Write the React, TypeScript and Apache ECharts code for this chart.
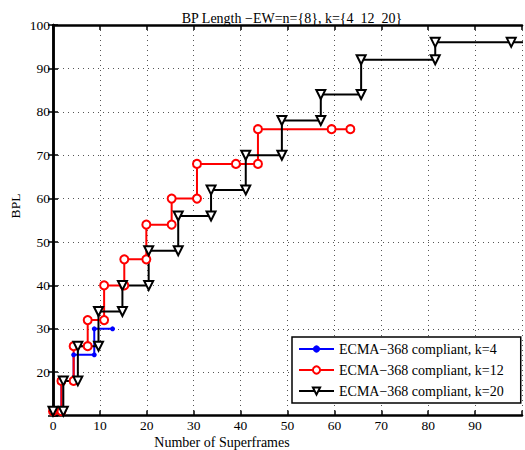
import React, { useEffect, useRef } from "react";
import * as echarts from "echarts";

const titleText = "BP Length \u2212EW=n={8}, k={4  12  20}";
const xAxisName = "Number of Superframes";
const yAxisName = "BPL";
const seriesNames = [
  "ECMA\u2212368 compliant, k=4",
  "ECMA\u2212368 compliant, k=12",
  "ECMA\u2212368 compliant, k=20",
];

// [superframes, BPL] corner points of each staircase
const k4Points: [number, number][] = [
  [0, 11], [1.8, 11], [1.8, 18], [4.4, 18], [4.4, 24], [8.8, 24], [8.8, 30], [12.7, 30],
];
const k12Points: [number, number][] = [
  [0, 11], [1.8, 11], [1.8, 18], [4.4, 18], [4.4, 26], [7.4, 26], [7.4, 32], [10.9, 32],
  [10.9, 40], [15.2, 40], [15.2, 46], [19.9, 46], [19.9, 54], [25.3, 54], [25.3, 60],
  [30.7, 60], [30.7, 68], [39, 68], [43.7, 68], [43.7, 76], [59.4, 76], [63.4, 76],
];
const k20Points: [number, number][] = [
  [0, 11], [2.2, 11], [2.2, 18], [5.3, 18], [5.3, 26], [9.7, 26], [9.7, 34], [14.8, 34],
  [14.8, 40], [20.4, 40], [20.4, 48], [26.7, 48], [26.7, 56], [33.7, 56], [33.7, 62],
  [41.1, 62], [41.1, 70], [48.8, 70], [48.8, 78], [57.1, 78], [57.1, 84], [65.7, 84],
  [65.7, 92], [81.5, 92], [81.5, 96], [97.7, 96], [101, 96],
];

const xTicks = { min: 0, max: 100, interval: 10 };
const yTicks = { min: 10, max: 100, interval: 10 };

const FONT = "Liberation Serif";

export default function App() {
  const ref = useRef<HTMLDivElement>(null);
  useEffect(() => {
    if (!ref.current) return;
    const chart = echarts.init(ref.current, null, { renderer: "svg" });
    const axisLine = { show: true, lineStyle: { color: "#000", width: 2.5 } };
    const tick = { show: true, inside: true, length: 5, lineStyle: { color: "#000", width: 1.5 } };
    const grid = { show: true, lineStyle: { color: "#555", width: 1, type: [1, 4] as any } };
    const label = { color: "#000", fontFamily: FONT, fontSize: 13.5 };
    const legendText = { fontFamily: FONT, fontSize: 14, color: "#000" };
    chart.setOption({
      animation: false,
      backgroundColor: "#fff",
      textStyle: { fontFamily: FONT },
      title: {
        text: titleText,
        left: 287,
        textAlign: "center",
        top: 6,
        textStyle: { fontFamily: FONT, fontSize: 14, fontWeight: "normal", color: "#000" },
      },
      grid: { left: 53, top: 25, right: -3, bottom: 34.4, containLabel: false },
      xAxis: [
        {
          type: "value", position: "bottom", ...xTicks,
          axisLine, axisTick: tick, splitLine: grid,
          axisLabel: { ...label, margin: 3, formatter: (v: number) => (v >= 100 ? "" : String(v)) },
        },
        {
          type: "value", position: "top", ...xTicks,
          axisLine, axisTick: tick, splitLine: { show: false }, axisLabel: { show: false },
        },
      ],
      yAxis: [
        {
          type: "value", position: "left", ...yTicks,
          axisLine, axisTick: tick, splitLine: grid,
          axisLabel: { ...label, margin: 3, formatter: (v: number) => (v <= 10 ? "" : String(v)) },
        },
        {
          type: "value", position: "right", ...yTicks,
          axisLine, axisTick: tick, splitLine: { show: false }, axisLabel: { show: false },
        },
      ],
      legend: {
        orient: "vertical",
        left: 292,
        top: 337,
        itemWidth: 35,
        itemHeight: 9,
        itemGap: 7,
        padding: [5, 17, 5, 6],
        backgroundColor: "#fff",
        borderColor: "#000",
        borderWidth: 1.5,
        textStyle: { ...legendText, rich: { s: legendText } },
        formatter: "{s|{name}}",
        data: seriesNames.map((name) => ({ name, textStyle: legendText })),
      },
      graphic: [
        {
          type: "text",
          x: 15,
          y: 206,
          rotation: Math.PI / 2,
          style: { text: yAxisName, fontFamily: FONT, fontSize: 13.5, fill: "#000", align: "center", verticalAlign: "middle" },
        },
        {
          type: "text",
          x: 222,
          y: 442,
          style: { text: xAxisName, fontFamily: FONT, fontSize: 14, fill: "#000", align: "center", verticalAlign: "middle" },
        },
      ],
      series: [
        {
          name: seriesNames[0], type: "line", data: k4Points, clip: false,
          color: "#0000ff", symbol: "circle", symbolSize: 5,
          lineStyle: { width: 2, color: "#0000ff" }, itemStyle: { color: "#0000ff" },
        },
        {
          name: seriesNames[1], type: "line", data: k12Points, clip: false,
          color: "#ff0000", symbol: "emptyCircle", symbolSize: 8,
          lineStyle: { width: 2, color: "#ff0000" }, itemStyle: { color: "#ff0000", borderWidth: 2 },
        },
        {
          name: seriesNames[2], type: "line", data: k20Points, clip: true,
          color: "#000", symbol: "emptyTriangle", symbolSize: 9, symbolRotate: 180,
          lineStyle: { width: 2, color: "#000" }, itemStyle: { color: "#000", borderWidth: 2 },
        },
      ],
    });
    return () => chart.dispose();
  }, []);
  return (
    <div
      ref={ref}
      style={{ position: "fixed", left: 0, top: 0, width: 525, height: 450, background: "#fff" }}
    />
  );
}
